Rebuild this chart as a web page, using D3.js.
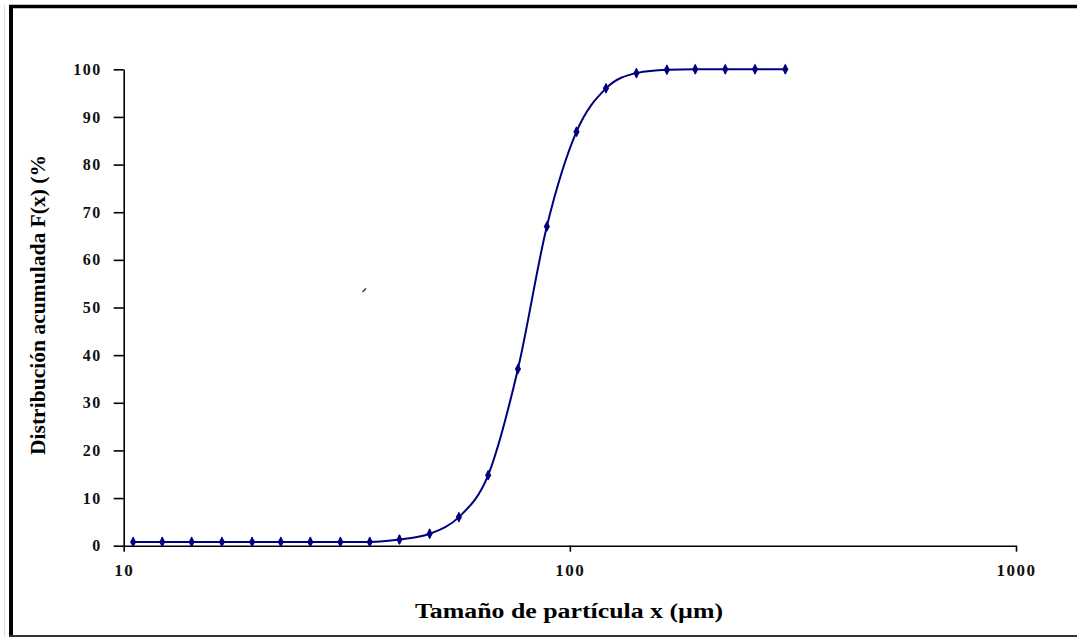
<!DOCTYPE html>
<html>
<head>
<meta charset="utf-8">
<script src="https://cdn.jsdelivr.net/npm/d3@7/dist/d3.min.js"></script>
<style>
  body { margin: 0; background: #fff; }
  svg { display: block; }
  .tick text { font-family: "Liberation Serif", "Times New Roman", serif; }
</style>
</head>
<body>
<div id="chart"></div>
<script>
// particle size (µm) and cumulative distribution F(x) (%)
var sizes = [10.5, 12.2, 14.2, 16.6, 19.4, 22.5, 26.2, 30.6, 35.6, 41.5, 48.5, 56.4,
             65.6, 76.5, 88.8, 103.5, 120.5, 141, 165, 191, 223, 260, 304];
var cumulative = [0.8, 0.8, 0.8, 0.8, 0.8, 0.8, 0.8, 0.8, 0.8, 1.3, 2.5, 6.0,
                  14.8, 37.1, 67.0, 86.9, 96.0, 99.2, 99.9, 100, 100, 100, 100];
var xTicks = [10, 100, 1000];
var yTicks = [0, 10, 20, 30, 40, 50, 60, 70, 80, 90, 100];

var width = 1077, height = 637;
var margin = {top: 69.3, right: 61, bottom: 91.3, left: 123.7};

var svg = d3.select('#chart')
  .append('svg')
  .attr('width', width)
  .attr('height', height);

// outer frame
svg.append('rect').attr('x', 0).attr('y', 0).attr('width', width).attr('height', height).attr('fill', '#fff');
svg.append('line').attr('x1', 9).attr('x2', width).attr('y1', 6.5).attr('y2', 6.5)
  .attr('stroke', '#000').attr('stroke-width', 3.5);
svg.append('line').attr('x1', 4.5).attr('x2', 4.5).attr('y1', 4.7).attr('y2', height)
  .attr('stroke', '#ddd').attr('stroke-width', 1);
svg.append('line').attr('x1', 11).attr('x2', 11).attr('y1', 5).attr('y2', height)
  .attr('stroke', '#000').attr('stroke-width', 4);
svg.append('line').attr('x1', 9).attr('x2', width).attr('y1', 636).attr('y2', 636)
  .attr('stroke', '#333').attr('stroke-width', 2);

var x = d3.scaleLog()
  .domain([10, 1000])
  .range([margin.left, width - margin.right]);

var y = d3.scaleLinear()
  .domain([0, 100])
  .range([height - margin.bottom, margin.top]);

var xAxis = svg.append('g')
  .attr('transform', 'translate(0,' + y(0) + ')')
  .call(d3.axisBottom(x).tickValues(xTicks).tickFormat(d3.format('d')).tickSize(6).tickSizeOuter(0).tickPadding(12));
xAxis.select('.domain').attr('stroke', '#000').attr('stroke-width', 1.6);
xAxis.selectAll('.tick line').attr('stroke', '#000').attr('stroke-width', 1.6);
xAxis.selectAll('.tick text')
  .attr('font-size', 17).attr('font-weight', 'bold').attr('letter-spacing', 1.5).attr('fill', '#111');

var yAxis = svg.append('g')
  .attr('transform', 'translate(' + x(10) + ',0)')
  .call(d3.axisLeft(y).tickValues(yTicks).tickSize(10).tickSizeOuter(0).tickPadding(12));
yAxis.select('.domain').attr('stroke', '#000').attr('stroke-width', 1.6);
yAxis.selectAll('.tick line').attr('stroke', '#000').attr('stroke-width', 1.6);
yAxis.selectAll('.tick text')
  .attr('font-size', 16).attr('font-weight', 'bold').attr('letter-spacing', 1.5).attr('fill', '#111');

// axis titles
svg.append('text')
  .attr('x', 569).attr('y', 618)
  .attr('text-anchor', 'middle')
  .attr('font-family', '"Liberation Serif", serif')
  .attr('font-weight', 'bold')
  .attr('font-size', 20)
  .attr('textLength', 308)
  .attr('lengthAdjust', 'spacingAndGlyphs')
  .text('Tamaño de partícula x (µm)');

svg.append('text')
  .attr('transform', 'translate(45,305) rotate(-90)')
  .attr('text-anchor', 'middle')
  .attr('font-family', '"Liberation Serif", serif')
  .attr('font-weight', 'bold')
  .attr('font-size', 20)
  .attr('textLength', 300)
  .attr('lengthAdjust', 'spacingAndGlyphs')
  .text('Distribución acumulada F(x) (%');

// stray mark
svg.append('line').attr('x1', 362.5).attr('y1', 292).attr('x2', 366).attr('y2', 288.5)
  .attr('stroke', '#333').attr('stroke-width', 1.4);

var data = sizes.map(function(d, i) { return {size: d, value: cumulative[i]}; });

var line = d3.line()
  .x(function(d) { return x(d.size); })
  .y(function(d) { return y(d.value); })
  .curve(d3.curveMonotoneX);

svg.append('path')
  .datum(data)
  .attr('d', line)
  .attr('fill', 'none')
  .attr('stroke', '#000080')
  .attr('stroke-width', 2);

svg.selectAll('.marker')
  .data(data)
  .enter()
  .append('path')
  .attr('class', 'marker')
  .attr('transform', function(d) { return 'translate(' + x(d.size) + ',' + y(d.value) + ')'; })
  .attr('d', d3.symbol().type(d3.symbolDiamond).size(34))
  .attr('fill', '#000080');

svg.selectAll('.marker-v')
  .data(data)
  .enter()
  .append('line')
  .attr('x1', function(d) { return x(d.size); })
  .attr('x2', function(d) { return x(d.size); })
  .attr('y1', function(d) { return y(d.value) - 4.5; })
  .attr('y2', function(d) { return y(d.value) + 4.5; })
  .attr('stroke', '#000080')
  .attr('stroke-width', 1.8);
</script>
</body>
</html>
